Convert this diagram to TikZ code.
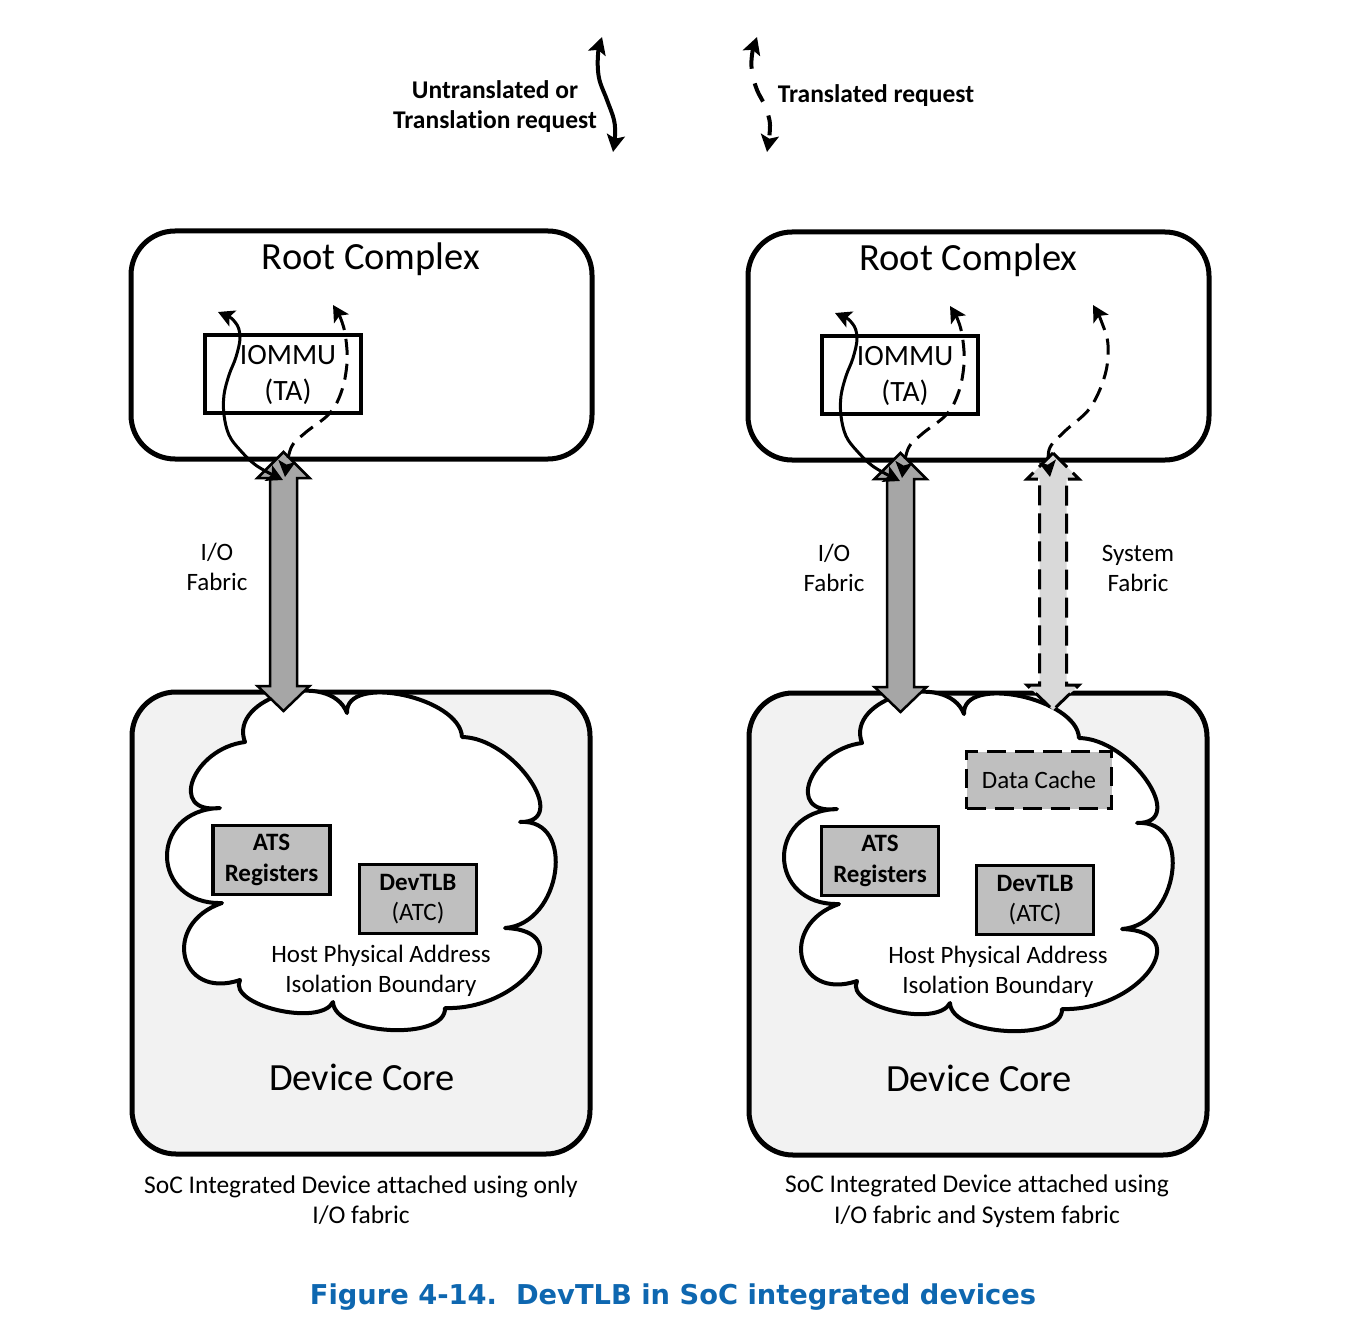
\documentclass[tikz,border=0pt]{standalone}
\usepackage{fontspec}
\setmainfont{Carlito}[Ligatures=NoCommon]
\newfontfamily\capfont{DejaVu Sans}
\usetikzlibrary{arrows.meta}
\definecolor{corefill}{HTML}{F2F2F2}
\definecolor{boxgray}{HTML}{BFBFBF}
\definecolor{iogray}{HTML}{A6A6A6}
\definecolor{sysgray}{HTML}{D9D9D9}
\definecolor{capblue}{RGB}{14,103,176}
\tikzset{
  rcbox/.style={draw, line width=5pt, rounded corners=44pt, fill=white, minimum width=461pt, minimum height=228pt, inner sep=0pt},
  dcbox/.style={draw, line width=5pt, rounded corners=44pt, fill=corefill, minimum width=458pt, minimum height=462pt, inner sep=0pt},
  iobox/.style={draw, line width=4pt, minimum width=156pt, minimum height=78pt, inner sep=0pt},
  graybox/.style={draw, line width=3.5pt, fill=boxgray, minimum width=117pt, minimum height=69pt, inner sep=0pt, align=center, font=\fontsize{25}{30.5}\selectfont},
  dashbox/.style={draw, line width=3.5pt, dash pattern=on 19pt off 9pt, fill=boxgray, minimum width=145pt, minimum height=57pt, inner sep=0pt, font=\fontsize{25}{30}\selectfont},
  bigtext/.style={inner sep=0pt, font=\fontsize{38.5}{44}\selectfont},
  midtext/.style={inner sep=0pt, align=center, font=\fontsize{29.5}{36}\selectfont},
  lbltext/.style={inner sep=0pt, align=center, font=\fontsize{25}{30}\selectfont},
  captext/.style={inner sep=0pt, align=center, font=\fontsize{25.5}{30.5}\selectfont},
  legtext/.style={inner sep=0pt, align=center, font=\fontsize{25.5}{30}\selectfont\bfseries},
  cloudshape/.style={draw, fill=white, line width=4pt, line join=round},
  ioarrow/.style={draw, line width=2.5pt, fill=iogray, line join=miter},
  sysarrow/.style={draw, line width=3pt, fill=sysgray, dash pattern=on 20pt off 8pt},
  req/.style={line width=3pt, {Stealth[length=16pt,width=17pt,inset=3.5pt]}-{Stealth[length=16pt,width=17pt,inset=3.5pt]}},
  treq/.style={req, dash pattern=on 16pt off 9pt},
  legreq/.style={line width=4pt, {Stealth[length=17pt,width=18pt,inset=3.5pt]}-{Stealth[length=17pt,width=18pt,inset=3.5pt]}},
  legtreq/.style={legreq, dash pattern=on 20pt off 15pt},
}
% block double arrow: #1 x, #2 top tip y, #3 bottom tip y, #4 style
\newcommand\fabarrow[4]{%
  \path[#4] (#1,#2) -- (#1+26,#2+26) -- (#1+13.5,#2+26) -- (#1+13.5,#3-25)
    -- (#1+26,#3-25) -- (#1,#3) -- (#1-26,#3-25) -- (#1-13.5,#3-25)
    -- (#1-13.5,#2+26) -- (#1-26,#2+26) -- cycle;}
% common panel: #1 prefix, #2 Root Complex text x, #3 ATS box x
\newcommand\panel[3]{%
  \node[rcbox] (#1rc) at (361.5,345) {};
  \node[bigtext] (#1rctxt) at (#2,259) {Root Complex};
  \node[iobox] (#1iommu) at (283,374) {};
  \node[midtext] (#1iommutxt) at (288,375) {IOMMU\\(TA)};
  \node[dcbox] (#1dc) at (361,923) {};
  \path[cloudshape] (245,742)
    .. controls (227.7,697.3) and (329.7,668.3) .. (347,713)
    .. controls (345,673) and (460,697) .. (462,737)
    .. controls (514,737.7) and (572,822.7) .. (520,822)
    .. controls (576.7,818) and (561.7,924) .. (505,928)
    .. controls (581,930.7) and (521,1010.7) .. (445,1008)
    .. controls (446.3,1041.3) and (334.3,1035.3) .. (333,1002)
    .. controls (320.3,1027.3) and (227.3,1005.3) .. (240,980)
    .. controls (178.7,1000.7) and (160.7,923.7) .. (222,903)
    .. controls (150,905) and (148,810) .. (220,808)
    .. controls (167.3,814.7) and (192.3,748.7) .. (245,742) -- cycle;
  \node[graybox] (#1ats) at (#3,860) {\textbf{ATS}\\\textbf{Registers}};
  \node[graybox] (#1tlb) at (418,899) {\textbf{DevTLB}\\(ATC)};
  \node[lbltext] (#1hpa) at (381,971) {Host Physical Address\\Isolation Boundary};
  \node[bigtext] (#1dctxt) at (362,1077) {Device Core};
  \node[lbltext] (#1iolbl) at (217,567) {I/O\\Fabric};
  \fabarrow{283.5}{452}{711}{ioarrow}
  \coordinate (#1sa) at (218,312);
  \coordinate (#1sb) at (283,480);
  \coordinate (#1da) at (333,305);
  \coordinate (#1db) at (285,477);
  \draw[req] plot[smooth, tension=0.6] coordinates {(#1sa) (235,322) (240,337) (236,357) (229,375) (224,395) (224,415) (229,435) (240,450) (257,466) (#1sb)};
  \draw[treq] plot[smooth, tension=0.6] coordinates {(#1da) (342,322) (346,340) (347,363) (342,390) (330,413) (305,433) (291,448) (#1db)};
}
\begin{document}
\begin{tikzpicture}[x=1pt,y=-1pt]
\useasboundingbox (0,0) rectangle (1354,1332);
\fill[white] (0,0) rectangle (1354,1332);
% legend
\node[legtext] (leg1) at (495,107) {Untranslated or\\Translation request};
\node[legtext] (leg2) at (876,96) {Translated request};
\coordinate (lga) at (602,37);
\coordinate (lgb) at (613,152);
\coordinate (lgc) at (757,37);
\coordinate (lgd) at (767,152);
\draw[legreq] plot[smooth, tension=0.6] coordinates {(lga) (598,55) (599,78) (607,100) (614,120) (615,136) (lgb)};
\draw[legtreq] plot[smooth, tension=0.6] coordinates {(lgc) (752,55) (752,72) (757,90) (765,106) (770,125) (lgd)};
% left panel
\panel{L}{371}{271.5}
% right panel
\begin{scope}[shift={(617,1)}]
\panel{R}{351.5}{263}
\end{scope}
% right panel extras
\node[dashbox] (cache) at (1039,780) {Data Cache};
\node[lbltext] (syslbl) at (1138,568) {System\\Fabric};
\fabarrow{1053}{453}{710}{sysarrow}
\coordinate (ta) at (1093,305);
\coordinate (tb) at (1050,477);
\draw[treq] plot[smooth, tension=0.6] coordinates {(ta) (1102,323) (1108,345) (1105,375) (1090,408) (1064,432) (1049,450) (tb)};
% captions
\node[captext] (capL) at (361,1200) {SoC Integrated Device attached using only\\I/O fabric};
\node[captext] (capR) at (977,1201) {SoC Integrated Device attached using\\I/O fabric and System fabric};
\node[inner sep=0pt, font=\capfont\bfseries\fontsize{27.3}{32}\selectfont, text=capblue] (fig) at (673,1297) {Figure 4-14.\ \ DevTLB in SoC integrated devices};
\end{tikzpicture}
\end{document}
